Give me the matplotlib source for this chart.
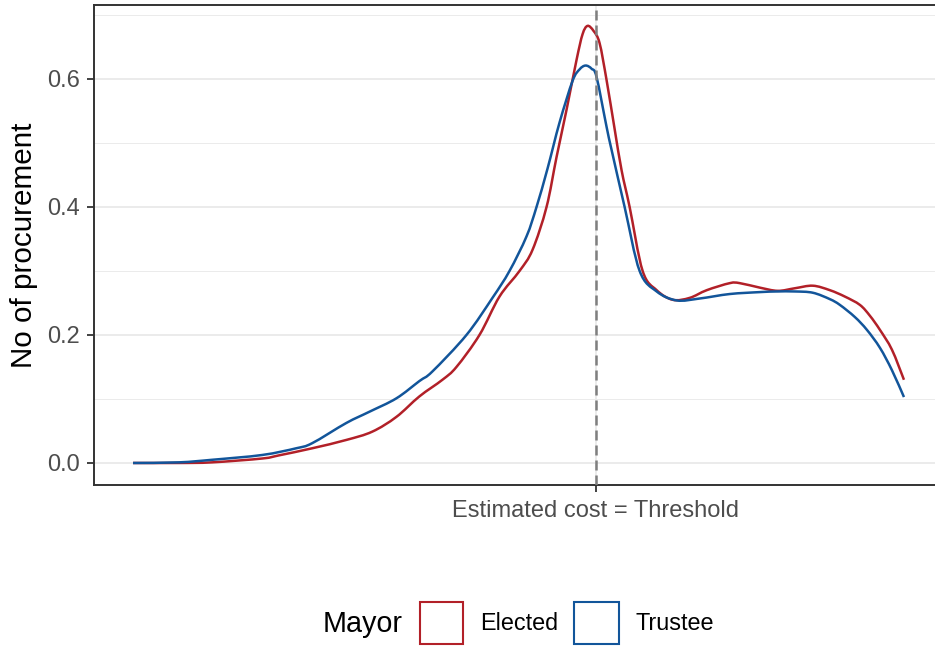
import matplotlib
matplotlib.use("Agg")
import matplotlib.pyplot as plt
from matplotlib.patches import Rectangle, PathPatch
from matplotlib.path import Path
import numpy as np

plt.rcParams['font.family'] = ['Liberation Sans', 'DejaVu Sans']

# x: estimated cost relative to threshold (threshold = 0), arbitrary units
elected_x = [-4.62, -4.16, -3.83, -3.33, -3.16, -2.83, -2.49, -2.23, -1.99, -1.76,
             -1.53, -1.39, -1.16, -0.96, -0.76, -0.63, -0.49, -0.39, -0.29, -0.19,
             -0.13, -0.08, -0.02, 0.04, 0.11, 0.19, 0.26, 0.34, 0.47,
             0.61, 0.77, 0.94, 1.11, 1.34, 1.44, 1.64, 1.82, 1.99, 2.17,
             2.34, 2.49, 2.64, 2.74, 2.84, 2.96, 3.08]
elected_y = [0.000, 0.000, 0.001, 0.007, 0.012, 0.023, 0.036, 0.049, 0.072, 0.104,
             0.130, 0.150, 0.200, 0.260, 0.300, 0.333, 0.400, 0.478, 0.552, 0.630,
             0.670, 0.683, 0.675, 0.656, 0.598, 0.522, 0.457, 0.400, 0.300,
             0.270, 0.255, 0.258, 0.270, 0.281, 0.281, 0.274, 0.269, 0.273, 0.277,
             0.270, 0.260, 0.247, 0.230, 0.208, 0.177, 0.130]

trustee_x = [-4.62, -4.16, -3.83, -3.33, -2.99, -2.83, -2.49, -2.26, -1.99, -1.76,
             -1.63, -1.29, -1.03, -0.86, -0.69, -0.59, -0.48, -0.36, -0.23, -0.16,
             -0.10, -0.04, 0.01, 0.11, 0.16, 0.29, 0.44, 0.61, 0.81,
             1.04, 1.34, 1.64, 1.81, 1.99, 2.17, 2.34, 2.44, 2.59, 2.71,
             2.84, 2.96, 3.08]
trustee_y = [0.000, 0.001, 0.005, 0.0125, 0.023, 0.031, 0.0625, 0.080, 0.101, 0.128,
             0.143, 0.200, 0.258, 0.300, 0.354, 0.400, 0.460, 0.532, 0.597, 0.615,
             0.621, 0.616, 0.603, 0.525, 0.489, 0.400, 0.300, 0.268, 0.254,
             0.257, 0.264, 0.267, 0.268, 0.268, 0.266, 0.256, 0.247, 0.228, 0.208,
             0.180, 0.145, 0.103]

series_names = ["Elected", "Trustee"]
series_colors = ["#B22028", "#12559A"]
threshold = 0.0
y_ticks = [0.0, 0.2, 0.4, 0.6]
y_tick_labels = ["0.0", "0.2", "0.4", "0.6"]
y_minor = [0.1, 0.3, 0.5, 0.7]
x_tick_label = "Estimated cost = Threshold"
y_label = "No of procurement"
legend_title = "Mayor"


def smooth_path(xs, ys):
    """Catmull-Rom curve through the data points, drawn as cubic Bezier segments."""
    p = np.column_stack([xs, ys]).astype(float)
    n = len(p)
    verts = [p[0]]
    codes = [Path.MOVETO]
    for i in range(n - 1):
        p0 = p[i - 1] if i > 0 else p[i]
        p1, p2 = p[i], p[i + 1]
        p3 = p[i + 2] if i + 2 < n else p[i + 1]
        c1 = p1 + (p2 - p0) / 6.0
        c2 = p2 - (p3 - p1) / 6.0
        verts += [c1, c2, p2]
        codes += [Path.CURVE4] * 3
    return Path(verts, codes)


W, H = 935, 648
fig = plt.figure(figsize=(W / 100, H / 100), dpi=100)
ax = fig.add_axes([94 / W, 1 - 485 / H, (943 - 94) / W, 480 / H])

ax.set_xlim(-5.01, 3.47)
ax.set_ylim(-0.0344, 0.7156)

# grid
for yv in y_ticks:
    ax.axhline(yv, color="#EBEBEB", lw=1.4, zorder=0)
for yv in y_minor:
    ax.axhline(yv, color="#EBEBEB", lw=0.7, zorder=0)
ax.axvline(threshold, color="#EBEBEB", lw=1.4, zorder=0)

for xs, ys, col in [(elected_x, elected_y, series_colors[0]),
                    (trustee_x, trustee_y, series_colors[1])]:
    ax.add_patch(PathPatch(smooth_path(xs, ys), facecolor="none", edgecolor=col,
                           lw=1.8, zorder=3, capstyle="butt", joinstyle="round"))

ax.axvline(threshold, color="#7F7F7F", lw=1.8, ls=(0, (4, 2)), zorder=4)

ax.set_yticks(y_ticks)
ax.set_yticklabels(y_tick_labels)
ax.set_xticks([threshold])
ax.set_xticklabels([x_tick_label])
ax.tick_params(axis="both", colors="#333333", length=5, width=1.3,
               labelcolor="#4D4D4D", labelsize=17)
ax.tick_params(axis="y", pad=5)
ax.tick_params(axis="x", pad=6)
ax.set_ylabel(y_label, fontsize=21.3, color="black", labelpad=7)

for s in ax.spines.values():
    s.set_color("#333333")
    s.set_linewidth(1.4)

# legend (ggplot-style, horizontal at bottom)
fig.text(323 / W, 1 - 624 / H, legend_title, fontsize=20.7, va="center", ha="left")
key_pos = [(420, 463, 480), (574, 619, 635)]
for (x0, x1, tx), name, col in zip(key_pos, series_names, series_colors):
    r = Rectangle((x0 / W, 1 - 644 / H), (x1 - x0) / W, 42 / H,
                  transform=fig.transFigure, facecolor="white", edgecolor=col,
                  lw=1.5)
    fig.patches.append(r)
    fig.text(tx / W, 1 - 624 / H, name, fontsize=16.8, va="center", ha="left")

fig.savefig("out.png", dpi=100)
